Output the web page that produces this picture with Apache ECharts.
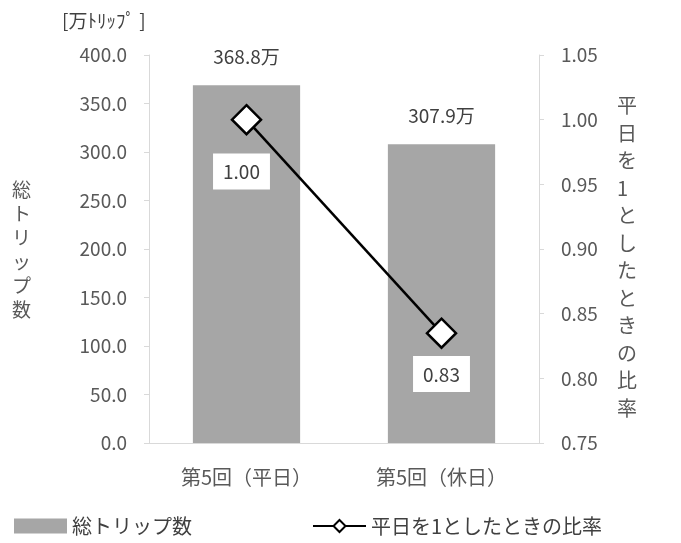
<!DOCTYPE html>
<html>
<head>
<meta charset="utf-8">
<script src="https://cdn.jsdelivr.net/npm/echarts@6/dist/echarts.min.js"></script>
<style>
  html, body { margin: 0; padding: 0; background: #fff; }
  #main { width: 681px; height: 543px; }
</style>
</head>
<body>
<div id="main"></div>
<script>
var categories = ['第5回（平日）', '第5回（休日）'];
var tripTotals = [368.8, 307.9];
var ratios = [1.00, 0.8349];

var FONT = '"Noto Sans CJK JP", "Noto Sans", sans-serif';
var myChart = echarts.init(document.getElementById('main'));

function vertical(s) { return s.split('').join('\n'); }

var option = {
    animation: false,
    textStyle: { fontFamily: FONT },
    grid: { left: 149, right: 142, top: 55, bottom: 100 },
    legend: {
        left: 9,
        bottom: 2,
        itemGap: 120,
        itemWidth: 53,
        itemHeight: 15,
        textStyle: { fontSize: 20, color: '#404040', fontFamily: FONT },
        data: [
            { name: '総トリップ数', icon: 'rect' },
            { name: '平日を1としたときの比率' }
        ]
    },
    xAxis: {
        type: 'category',
        data: categories,
        axisLine: { lineStyle: { color: '#d9d9d9', width: 1 } },
        axisTick: { show: false },
        axisLabel: { color: '#595959', fontSize: 20, margin: 24, fontFamily: FONT }
    },
    yAxis: [{
        type: 'value',
        min: 0, max: 400, interval: 50,
        axisLine: { show: true, lineStyle: { color: '#d9d9d9' } },
        axisTick: { show: true, length: 5, lineStyle: { color: '#d9d9d9' } },
        splitLine: { show: false },
        axisLabel: {
            color: '#595959', fontSize: 19, margin: 22, fontFamily: FONT,
            formatter: function (v) { return v.toFixed(1); }
        }
    }, {
        type: 'value',
        min: 0.75, max: 1.05, interval: 0.05,
        axisLine: { show: true, lineStyle: { color: '#d9d9d9' } },
        axisTick: { show: true, length: 5, lineStyle: { color: '#d9d9d9' } },
        splitLine: { show: false },
        axisLabel: {
            color: '#595959', fontSize: 19, margin: 22, fontFamily: FONT,
            formatter: function (v) { return v.toFixed(2); }
        }
    }],
    graphic: [{
        type: 'text', left: 62, top: 11,
        style: { text: '[万ﾄﾘｯﾌﾟ ]', fontSize: 19, fill: '#404040', fontFamily: FONT }
    }, {
        type: 'text', left: 12, top: 178,
        style: { text: vertical('総トリップ数'), fontSize: 19, lineHeight: 24, fill: '#595959', fontFamily: FONT, align: 'center' }
    }, {
        type: 'text', left: 617, top: 92,
        style: { text: vertical('平日を1としたときの比率'), fontSize: 20, lineHeight: 27.5, fill: '#595959', fontFamily: FONT }
    }],
    series: [{
        name: '総トリップ数',
        type: 'bar',
        data: tripTotals,
        barWidth: '55%',
        itemStyle: { color: '#a6a6a6' },
        label: {
            show: true, position: 'top', distance: 19,
            fontSize: 19, color: '#404040', fontFamily: FONT,
            formatter: function (p) { return p.value.toFixed(1) + '万'; }
        }
    }, {
        name: '平日を1としたときの比率',
        type: 'line',
        yAxisIndex: 1,
        data: [{
            value: ratios[0],
            label: { offset: [-5, 13] }
        }, {
            value: ratios[1],
            label: { offset: [0, 2] }
        }],
        symbol: 'diamond',
        symbolSize: [29, 29],
        lineStyle: { color: '#000', width: 2.5 },
        itemStyle: { color: '#fff', borderColor: '#000', borderWidth: 2.5 },
        label: {
            show: true, position: 'bottom',
            backgroundColor: '#fff',
            padding: [9, 10, 8, 10],
            fontSize: 19, color: '#404040', fontFamily: FONT,
            formatter: function (p) { return p.value.toFixed(2); }
        },
        z: 5
    }]
};
myChart.setOption(option);
window.addEventListener('resize', function () {
    myChart.resize();
});
</script>
</body>
</html>
